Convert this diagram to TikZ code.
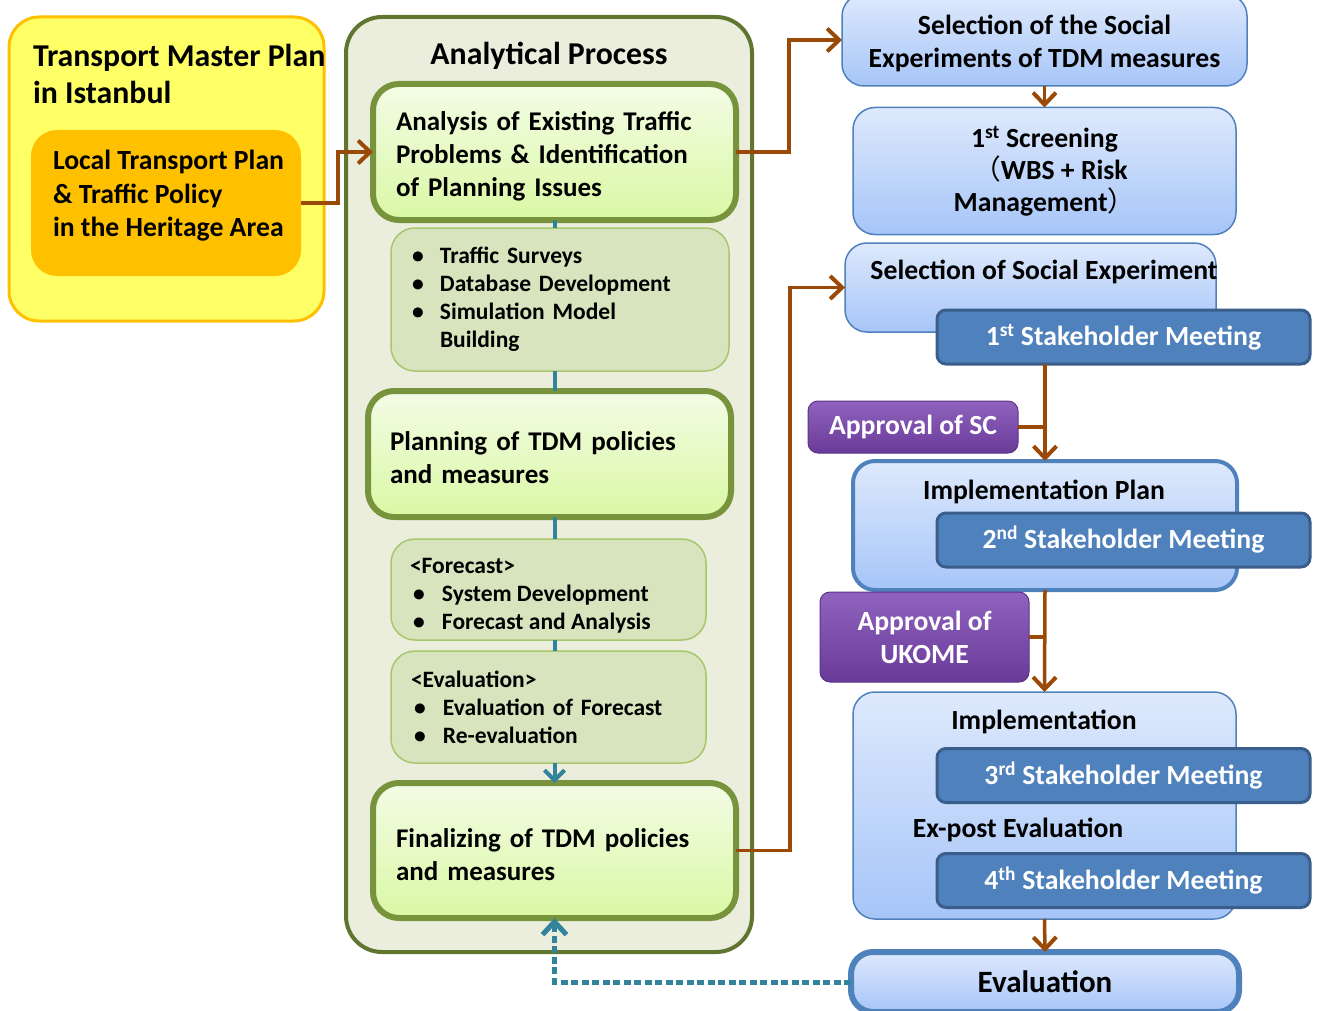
\documentclass[tikz,border=0pt]{standalone}
\usepackage{fontspec}
\setmainfont{Carlito}
\newfontfamily\cjkfont{Noto Sans CJK SC}
\usetikzlibrary{arrows.meta}
\definecolor{yfill}{HTML}{FFFF66}
\definecolor{ydraw}{HTML}{FFC000}
\definecolor{ofill}{HTML}{FFC000}
\definecolor{olbg}{HTML}{EBEEDD}
\definecolor{olline}{HTML}{5F7530}
\definecolor{gtop}{HTML}{F3FCE6}
\definecolor{gbot}{HTML}{DAF8A4}
\definecolor{gline}{HTML}{77933C}
\definecolor{bulfill}{HTML}{D7E4BD}
\definecolor{bulline}{HTML}{A8C66C}
\definecolor{tealc}{HTML}{31849B}
\definecolor{brownc}{HTML}{9A4A06}
\definecolor{btop}{HTML}{DEE9FC}
\definecolor{bbot}{HTML}{A6C5F8}
\definecolor{blueline}{HTML}{4F81BD}
\definecolor{dkb}{HTML}{4F81BD}
\definecolor{dkbline}{HTML}{3A5E8C}
\definecolor{ptop}{HTML}{8F63BE}
\definecolor{pbot}{HTML}{6A3A99}
\definecolor{pline}{HTML}{5E3388}
\newcommand\ftitle{\fontsize{31.8}{37}\selectfont\bfseries}
\newcommand\fmain{\fontsize{27}{33}\selectfont\bfseries}
\newcommand\fright{\fontsize{27.7}{33}\selectfont\bfseries}
\newcommand\fbul{\fontsize{23.5}{28}\selectfont\bfseries}
\newcommand\fbig{\fontsize{31}{37}\selectfont\bfseries}
\newcommand\bl{\makebox[28pt][l]{•}}
\newcommand\bli{\hspace*{28pt}}
\newcommand\blf{\hspace*{3pt}\makebox[29pt][l]{•}}
\newcommand\tsp{\rule{0pt}{27pt}}
\begin{document}
\begin{tikzpicture}[x=1pt,y=-1pt,
  every node/.style={inner sep=0pt,outer sep=0pt},
  ybox/.style={draw=ydraw,fill=yfill,line width=3pt,rounded corners=30pt},
  obox/.style={fill=ofill,rounded corners=26pt},
  anbox/.style={draw=olline,fill=olbg,line width=4pt,rounded corners=36pt},
  gbox/.style={draw=gline,top color=gtop,bottom color=gbot,line width=6pt,rounded corners=26pt,font=\fmain,align=left},
  bulbox/.style={draw=bulline,fill=bulfill,line width=1.5pt,rounded corners=24pt,font=\fbul,align=left},
  bbox/.style={draw=blueline,top color=btop,bottom color=bbot,line width=1.5pt,rounded corners=22pt,font=\fright,align=center},
  smbox/.style={draw=dkbline,fill=dkb,line width=3pt,rounded corners=9pt,font=\fright,text=white,minimum width=373pt,minimum height=54pt},
  apbox/.style={draw=pline,top color=ptop,bottom color=pbot,line width=1pt,rounded corners=10pt,font=\fright,text=white,align=center},
  brarrow/.style={draw=brownc,line width=3.5pt,-{Straight Barb[length=12pt,width=23pt,line width=4pt]}},
  brline/.style={draw=brownc,line width=3.5pt},
  tline/.style={draw=tealc,line width=4pt},
  tarrow/.style={draw=tealc,line width=4pt,-{Straight Barb[length=10pt,width=20pt]}},
  tdot/.style={draw=tealc,line width=5pt,dash pattern=on 7pt off 3.5pt,-{Straight Barb[length=13pt,width=24pt]}},
  txt/.style={font=\fright}
]
\useasboundingbox (0,0) rectangle (1319,1011);

% left yellow block
\node[ybox,minimum width=315pt,minimum height=304pt] (tmp) at (166.5,169) {};
\node[anchor=west,align=left,font=\ftitle] (tmptxt) at (33,73.5) {Transport Master Plan\\in Istanbul};
\node[obox,minimum width=270pt,minimum height=146pt] (ltp) at (166,203) {};
\node[anchor=west,align=left,font=\fontsize{27.7}{33.5}\selectfont\bfseries] (ltptxt) at (53,196) {Local Transport Plan\\\& Traffic Policy\\in the Heritage Area};

% analytical process
\node[anbox,minimum width=406pt,minimum height=935pt] (an) at (549,484.5) {};
\node[font=\ftitle] (antxt) at (549,56) {Analytical Process};
\node[gbox,minimum width=363pt,minimum height=136pt,text width=317pt] (b1) at (554.5,152)
  {\tsp Analysis of Existing Traffic\\Problems \& Identification\\of Planning Issues};
\node[bulbox,minimum width=338pt,minimum height=143pt,text width=296pt] (bul1) at (560,299.5)
  {\bl Traffic Surveys\\\bl Database Development\\\bl Simulation Model\\\bli Building};
\node[gbox,minimum width=363pt,minimum height=126pt,text width=319pt] (b2) at (549.5,454)
  {\tsp Planning of TDM policies\\and measures};
\node[bulbox,minimum width=315pt,minimum height=101pt] (fc) at (548.5,589.5) {};
\node[anchor=west,align=left,font=\fbul] (fctxt) at (410,596)
  {<Forecast>\\\blf System Development\\\blf Forecast and Analysis};
\node[bulbox,minimum width=315pt,minimum height=112pt,text width=275pt] (ev) at (548.5,707)
  {<Evaluation>\\\blf Evaluation of Forecast\\\blf Re-evaluation};
\node[gbox,minimum width=363pt,minimum height=135pt,text width=317pt] (b3) at (554.5,850.5)
  {\tsp Finalizing of TDM policies\\and measures};

% right column
\node[bbox,minimum width=405pt,minimum height=92pt] (sel) at (1044.5,40)
  {\tsp Selection of the Social\\Experiments of TDM measures};
\node[bbox,minimum width=383pt,minimum height=127pt,font=\fontsize{27.7}{32}\selectfont\bfseries] (scr) at (1044.5,171)
  {1\textsuperscript{st} Screening\\\hspace*{12pt}{\cjkfont\mdseries （}WBS + Risk\\Management{\cjkfont\mdseries ）}};
\node[bbox,minimum width=371pt,minimum height=89pt] (sse) at (1030.5,287.5) {};
\node[txt] (ssetxt) at (1044,272) {Selection of Social Experiment};
\node[smbox] (sm1) at (1123.5,337) {1\textsuperscript{st} Stakeholder Meeting};
\node[apbox,minimum width=210pt,minimum height=52pt] (apsc) at (913,427) {Approval of SC};
\node[bbox,line width=4pt,minimum width=384pt,minimum height=129pt] (ip) at (1045,525.5) {};
\node[txt] (iptxt) at (1044,492) {Implementation Plan};
\node[smbox] (sm2) at (1123.5,540) {2\textsuperscript{nd} Stakeholder Meeting};
\node[apbox,minimum width=209pt,minimum height=90pt] (apu) at (924.5,637) {Approval of\\UKOME};
\node[bbox,minimum width=383pt,minimum height=227pt] (imp) at (1044.5,805.5) {};
\node[txt] (imptxt) at (1044,722) {Implementation};
\node[txt] (exptxt) at (1018,830) {Ex-post Evaluation};
\node[smbox] (sm3) at (1123.5,775.5) {3\textsuperscript{rd} Stakeholder Meeting};
\node[smbox] (sm4) at (1123.5,880.5) {4\textsuperscript{th} Stakeholder Meeting};
\node[bbox,line width=6pt,minimum width=388pt,minimum height=60pt,font=\fbig] (eval) at (1045,982) {Evaluation};

% teal connectors
\draw[tline] (b1.south) -- (b1.south |- bul1.north);
\draw[tline] (b1.south |- bul1.south) -- (b1.south |- b2.north);
\draw[tline] (b1.south |- b2.south) -- (b1.south |- fc.north);
\draw[tline] (b1.south |- fc.south) -- (b1.south |- ev.north);
\draw[tarrow] (b1.south |- ev.south) -- (b3.north);
\draw[tdot] (eval.west) -| (b3.south);

% brown connectors
\draw[brarrow] (ltp.east) -- ++(37,0) |- (b1.west);
\draw[brarrow] (b1.east) -- ++(53,0) |- (sel.west);
\draw[brarrow] (b3.east) -- ++(54,0) |- (sse.west);
\draw[brarrow] (sel.south) -- (scr.north);
\draw[brarrow] (sm1.south -| ip.north) -- (ip.north);
\draw[brline] (apsc.east) -- (apsc.east -| ip.north);
\draw[brarrow] (ip.south) -- (imp.north);
\draw[brline] (apu.east) -- (apu.east -| ip.south);
\draw[brarrow] (imp.south) -- (eval.north);
\end{tikzpicture}
\end{document}
